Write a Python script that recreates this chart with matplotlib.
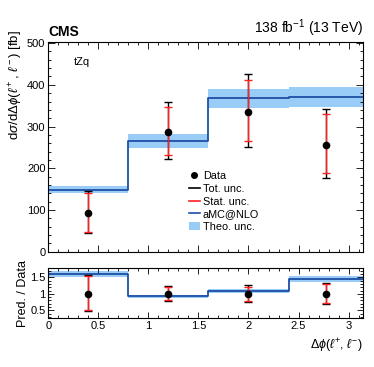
import numpy as np
import matplotlib
matplotlib.use("Agg")
import matplotlib.pyplot as plt
from matplotlib.ticker import MultipleLocator
from matplotlib.patches import Patch
from matplotlib.lines import Line2D

plt.rcParams['font.family'] = ['Liberation Sans', 'DejaVu Sans']
plt.rcParams['mathtext.fontset'] = 'custom'
plt.rcParams['mathtext.rm'] = 'Liberation Sans'
plt.rcParams['mathtext.it'] = 'Liberation Sans:italic'

# Data
bin_edges = [0.0, 0.8, 1.6, 2.4, np.pi]
data_x = [0.40, 1.20, 2.00, 2.77]
data_y = [92, 288, 336, 257]
tot_up = [146, 360, 425, 343]
tot_dn = [44, 222, 250, 176]
stat_up = [141, 348, 411, 331]
stat_dn = [48, 232, 266, 189]
pred = [148, 266, 368, 370]
pred_hi = [157, 282, 391, 394]
pred_lo = [140, 249, 345, 347]

line_col = '#1f4ea3'
band_col = '#99cdf7'

fig = plt.figure(figsize=(3.74, 3.67), dpi=100)
ax = fig.add_axes([0.129, 0.314, 0.841, 0.572])
axr = fig.add_axes([0.129, 0.133, 0.841, 0.136])

edges = np.array(bin_edges)
pred_a = np.array(pred)
hi_a = np.array(pred_hi)
lo_a = np.array(pred_lo)
dy = np.array(data_y, float)

def step(vals):
    return np.append(vals, vals[-1])

# Top panel
ax.fill_between(edges, step(lo_a), step(hi_a), step='post', color=band_col, lw=0)
ax.step(edges, step(pred_a), where='post', color=line_col, lw=1.3)
ax.errorbar(data_x, dy, yerr=[dy - np.array(tot_dn), np.array(tot_up) - dy],
            fmt='none', ecolor='black', elinewidth=1.0, capsize=3, capthick=1.0)
ax.errorbar(data_x, dy, yerr=[dy - np.array(stat_dn), np.array(stat_up) - dy],
            fmt='none', ecolor='#ff2020', elinewidth=1.0, capsize=3, capthick=1.0)
ax.plot(data_x, dy, 'o', color='black', ms=4.5)

ax.set_xlim(0, np.pi)
ax.set_ylim(0, 503)
ax.yaxis.set_major_locator(MultipleLocator(100))
ax.yaxis.set_minor_locator(MultipleLocator(20))
ax.xaxis.set_major_locator(MultipleLocator(0.5))
ax.xaxis.set_minor_locator(MultipleLocator(0.1))
ax.tick_params(axis='x', labelbottom=False)
ax.set_ylabel(r'd$\sigma$/d$\Delta\phi$($\ell^+$, $\ell^-$) [fb]', loc='top', fontsize=9.5)
ax.yaxis.set_label_coords(-0.075, 1.055)
ax.text(0.08, 0.89, 'tZq', transform=ax.transAxes, fontsize=8)
ax.text(0.0, 1.015, 'CMS', transform=ax.transAxes, fontsize=10, fontweight='bold', ha='left', va='bottom')
ax.text(1.0, 1.015, r'138 fb$^{-1}$ (13 TeV)', transform=ax.transAxes, fontsize=10, ha='right', va='bottom')

handles = [
    Line2D([], [], marker='o', color='black', ls='none', ms=4),
    Line2D([], [], color='black', lw=1.2),
    Line2D([], [], color='#ff2020', lw=1.2),
    Line2D([], [], color=line_col, lw=1.2),
    Patch(facecolor=band_col, edgecolor='none'),
]
labels = ['Data', 'Tot. unc.', 'Stat. unc.', 'aMC@NLO', 'Theo. unc.']
ax.legend(handles, labels, loc='upper left', bbox_to_anchor=(0.43, 0.41), frameon=False,
          fontsize=7.8, handlelength=1.0, handletextpad=0.3, labelspacing=0.25, borderpad=0)

# Ratio panel
ratio = pred_a / dy
ratio_hi = hi_a / dy
ratio_lo = lo_a / dy
axr.fill_between(edges, step(ratio_lo), step(ratio_hi), step='post', color=band_col, lw=0)
axr.step(edges, step(ratio), where='post', color=line_col, lw=1.3)
ones = np.ones(len(data_x))
axr.errorbar(data_x, ones, yerr=[(dy - np.array(tot_dn)) / dy, (np.array(tot_up) - dy) / dy],
             fmt='none', ecolor='black', elinewidth=1.0, capsize=3, capthick=1.0)
axr.errorbar(data_x, ones, yerr=[(dy - np.array(stat_dn)) / dy, (np.array(stat_up) - dy) / dy],
             fmt='none', ecolor='#ff2020', elinewidth=1.0, capsize=3, capthick=1.0)
axr.plot(data_x, ones, 'o', color='black', ms=4.5)
axr.set_xlim(0, np.pi)
axr.set_ylim(0.26, 1.78)
axr.yaxis.set_major_locator(MultipleLocator(0.5))
axr.yaxis.set_minor_locator(MultipleLocator(0.1))
axr.xaxis.set_major_locator(MultipleLocator(0.5))
axr.xaxis.set_minor_locator(MultipleLocator(0.1))
axr.set_yticks([0.5, 1.0, 1.5])
axr.set_yticklabels(['0.5', '1', '1.5'])
axr.set_xticks([0, 0.5, 1, 1.5, 2, 2.5, 3])
axr.set_xticklabels(['0', '0.5', '1', '1.5', '2', '2.5', '3'])
axr.set_ylabel('Pred. / Data', fontsize=9)
axr.yaxis.set_label_coords(-0.062, 0.5)
axr.set_xlabel(r'$\Delta\phi$($\ell^{+}$, $\ell^{-}$)', loc='right', fontsize=9)

for a in (ax, axr):
    a.tick_params(which='both', direction='in', top=True, right=True, labelsize=8, pad=2)
    a.tick_params(which='major', length=5, width=0.6)
    a.tick_params(which='minor', length=2.5, width=0.6)
    for s in a.spines.values():
        s.set_linewidth(0.8)
axr.tick_params(which='major', length=4)
axr.tick_params(which='minor', length=2)

fig.savefig('out.png', dpi=100)
